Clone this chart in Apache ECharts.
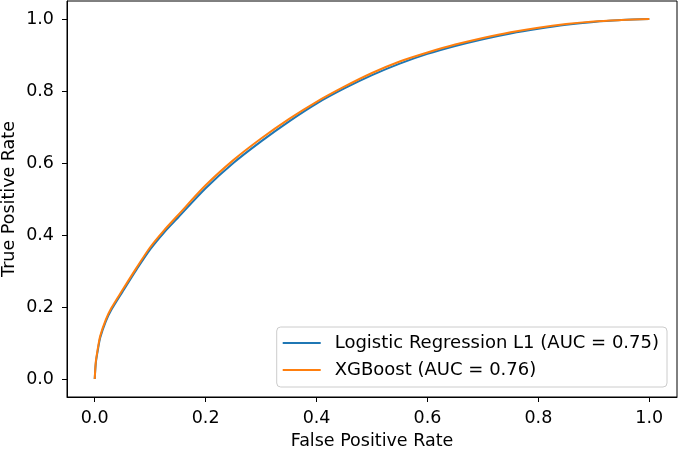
<!DOCTYPE html>
<html>
<head>
<meta charset="utf-8">
<script src="https://cdn.jsdelivr.net/npm/echarts@6/dist/echarts.min.js"></script>
<style>
  html, body { margin: 0; padding: 0; background: #fff; }
  #chart { width: 678px; height: 450px; }
</style>
</head>
<body>
<div id="chart"></div>
<script>
// ROC curves
var fpr = [0, 0.002, 0.005, 0.01, 0.02, 0.03, 0.05, 0.075, 0.1, 0.125, 0.15, 0.2, 0.25, 0.3, 0.35, 0.4,
    0.45, 0.5, 0.55, 0.6, 0.65, 0.7, 0.75, 0.8, 0.85, 0.9, 0.95, 1.0];
var tprLogReg = [0, 0.045, 0.075, 0.115, 0.16, 0.192, 0.242, 0.303, 0.36, 0.407, 0.448, 0.53, 0.6, 0.66, 0.715, 0.765,
    0.807, 0.844, 0.876, 0.903, 0.925, 0.944, 0.96, 0.973, 0.984, 0.992, 0.997, 1.0];
var tprXgb = [0, 0.048, 0.079, 0.12, 0.165, 0.197, 0.247, 0.308, 0.366, 0.413, 0.455, 0.538, 0.608, 0.668, 0.722, 0.77,
    0.812, 0.85, 0.882, 0.907, 0.929, 0.947, 0.963, 0.976, 0.986, 0.993, 0.997, 1.0];
var tickValues = [0, 0.2, 0.4, 0.6, 0.8, 1.0];
var seriesNames = ['Logistic Regression L1 (AUC = 0.75)', 'XGBoost (AUC = 0.76)'];

var font = 'DejaVu Sans';

var pairs = function(xs, ys) {
    var out = [];
    for (var i = 0; i < xs.length; i++) {
        out.push([xs[i], ys[i]]);
    }
    return out;
};

var axisCommon = function(name, gap, labelMargin) {
    return {
        type: 'value',
        min: -0.05,
        max: 1.05,
        name: name,
        nameLocation: 'middle',
        nameGap: gap,
        nameMoveOverlap: false,
        nameTextStyle: { fontFamily: font, fontSize: 17.5, color: '#000' },
        axisLine: { show: true, onZero: false, lineStyle: { color: '#000', width: 1 } },
        axisTick: { show: true, length: 5, customValues: tickValues, lineStyle: { color: '#000', width: 1 } },
        axisLabel: {
            customValues: tickValues,
            fontFamily: font,
            fontSize: 17.5,
            color: '#000',
            margin: labelMargin,
            formatter: function(v) { return v.toFixed(1); }
        },
        splitLine: { show: false }
    };
};

var chart = echarts.init(document.getElementById('chart'));

var xAxis = axisCommon('False Positive Rate', 35, 12);
var yAxis = axisCommon('True Positive Rate', 49, 13);

var option = {
    animation: false,
    backgroundColor: '#fff',
    grid: {
        left: 67,
        right: 1,
        top: 1,
        bottom: 53,
        containLabel: false,
        outerBoundsMode: 'none',
        show: true,
        borderColor: '#000',
        borderWidth: 1
    },
    xAxis: xAxis,
    yAxis: yAxis,
    legend: {
        orient: 'vertical',
        right: 11,
        bottom: 63,
        icon: 'rect',
        itemWidth: 38,
        itemHeight: 2,
        itemGap: 7,
        padding: [6, 8, 7, 6],
        backgroundColor: '#fff',
        borderColor: '#cccccc',
        borderWidth: 1,
        borderRadius: 4,
        textStyle: { fontFamily: font, fontSize: 18, color: '#000', lineHeight: 20, padding: [0, 0, 0, 9] },
        data: seriesNames
    },
    series: [{
        name: seriesNames[0],
        type: 'line',
        symbol: 'none',
        smooth: 0.3,
        color: '#1f77b4',
        lineStyle: { width: 2, color: '#1f77b4' },
        data: pairs(fpr, tprLogReg)
    }, {
        name: seriesNames[1],
        type: 'line',
        symbol: 'none',
        smooth: 0.3,
        color: '#ff7f0e',
        lineStyle: { width: 2, color: '#ff7f0e' },
        data: pairs(fpr, tprXgb)
    }]
};

chart.setOption(option);
</script>
</body>
</html>
